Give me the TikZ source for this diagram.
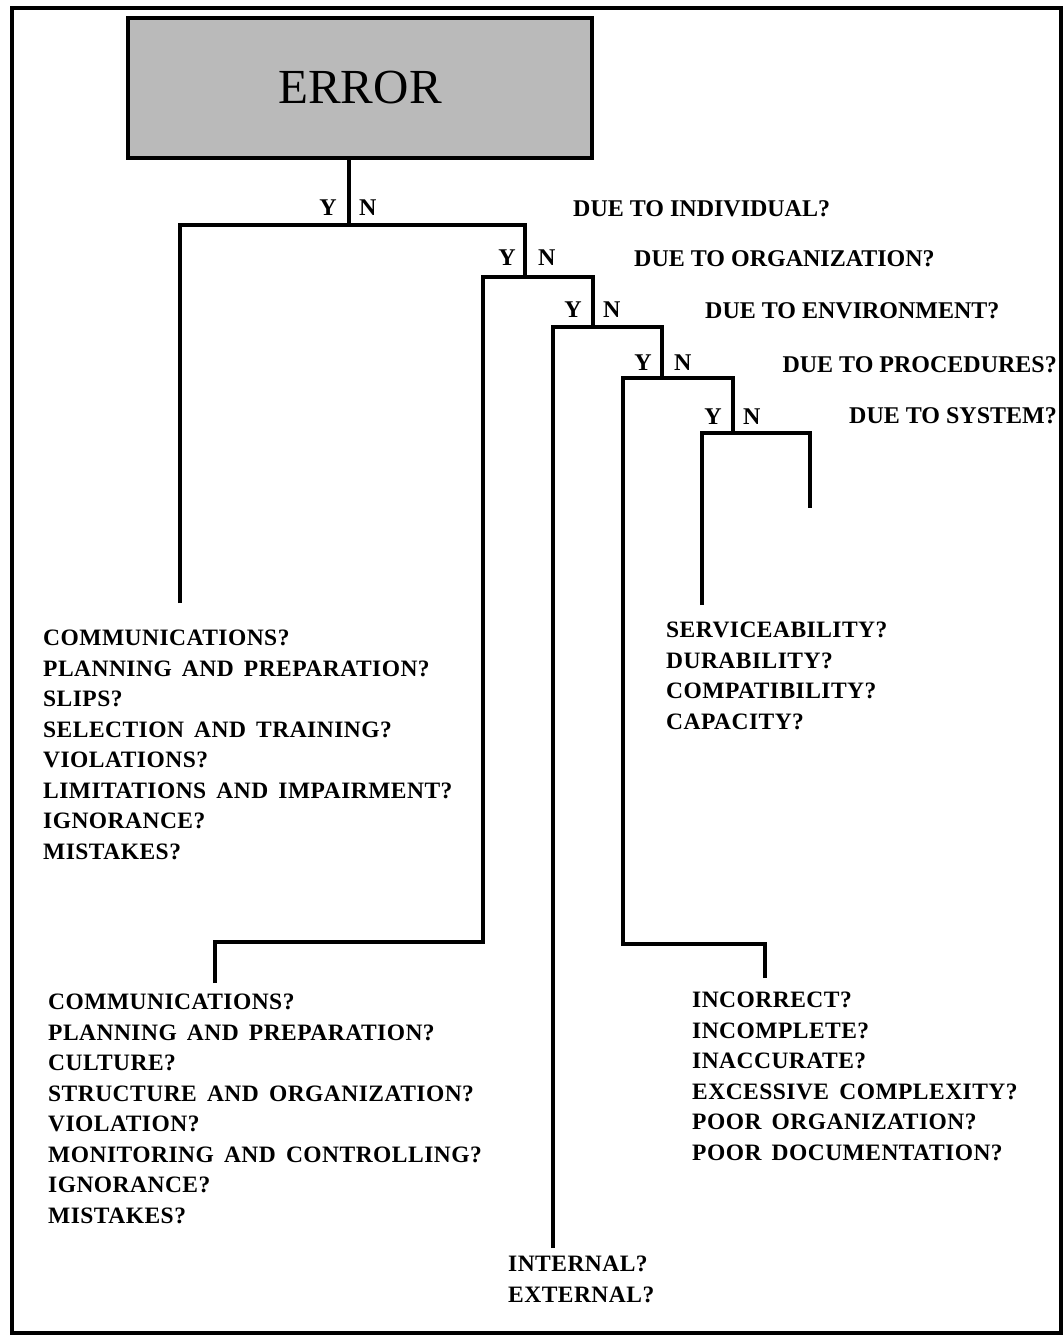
\documentclass[tikz,border=0pt]{standalone}
\usepackage{fontspec}
\setmainfont{Liberation Serif}
\newfontfamily\widebf[LetterSpace=2,WordSpace=1.6]{Liberation Serif}
\begin{document}
\begin{tikzpicture}[x=1pt,y=-1pt,
  tree/.style={line width=3.6pt, line join=miter, line cap=butt},
  yn/.style={font=\fontsize{24}{28}\selectfont\bfseries, inner sep=0pt},
  ques/.style={font=\fontsize{24}{28}\selectfont\bfseries, inner sep=0pt, anchor=base west},
  lst/.style={font=\widebf\fontsize{23.5}{30.5}\selectfont\bfseries, inner sep=0pt, anchor=north west, align=left},
  errbox/.style={draw, line width=3.5pt, fill=black!27, minimum width=464pt, minimum height=140pt, inner sep=0pt, font=\fontsize{49}{50}\selectfont}
]
\useasboundingbox (0,0) rectangle (1064,1341);
\draw[line width=4pt] (12,8) rectangle (1061,1333);

\node[errbox] (err) at (360,88) {ERROR\hspace{16pt}};

% junction coordinates
\coordinate (j1) at (349,225);
\coordinate (h2) at (525,225);
\coordinate (j2) at (525,277);
\coordinate (h3) at (593,277);
\coordinate (j3) at (593,327);
\coordinate (h4) at (662,327);
\coordinate (j4) at (662,378);
\coordinate (h5) at (733,378);
\coordinate (j5) at (733,433);
\coordinate (k2) at (483,942);
\coordinate (k4) at (623,944);
% free ends
\coordinate (e1) at (180,603);
\coordinate (e2) at (215,983);
\coordinate (e3) at (553,1248);
\coordinate (e4) at (765,978);
\coordinate (e5) at (702,605);
\coordinate (e6) at (810,508);

% tree
\draw[tree] (err.south -| j1) -- (j1);
\draw[tree] (e1) |- (h2) -- (j2);
\draw[tree] (e2) |- (k2) |- (h3) -- (j3);
\draw[tree] (e3) |- (h4) -- (j4);
\draw[tree] (e4) |- (k4) |- (h5) -- (j5);
\draw[tree] (e5) |- (j5) -| (e6);

% Y / N labels
\node[yn, anchor=east] (y1) at (337,208) {Y};
\node[yn, anchor=west] (n1) at (359,208) {N};
\node[yn, anchor=east] (y2) at (516,258) {Y};
\node[yn, anchor=west] (n2) at (538,258) {N};
\node[yn, anchor=east] (y3) at (582,310) {Y};
\node[yn, anchor=west] (n3) at (603,310) {N};
\node[yn, anchor=east] (y4) at (652,363) {Y};
\node[yn, anchor=west] (n4) at (674,363) {N};
\node[yn, anchor=east] (y5) at (722,417) {Y};
\node[yn, anchor=west] (n5) at (743,417) {N};

% questions
\node[ques] (q1) at (573,216) {DUE TO INDIVIDUAL?};
\node[ques] (q2) at (634,266) {DUE TO ORGANIZATION?};
\node[ques] (q3) at (705,318) {DUE TO ENVIRONMENT?};
\node[ques, anchor=base east] (q4) at (1057,372) {DUE TO PROCEDURES?};
\node[ques, anchor=base east] (q5) at (1057,423) {DUE TO SYSTEM?};

% lists
\node[lst] (l1) at (43,630) {COMMUNICATIONS?\\PLANNING AND PREPARATION?\\SLIPS?\\SELECTION AND TRAINING?\\VIOLATIONS?\\LIMITATIONS AND IMPAIRMENT?\\IGNORANCE?\\MISTAKES?};
\node[lst] (l2) at (48,994) {COMMUNICATIONS?\\PLANNING AND PREPARATION?\\CULTURE?\\STRUCTURE AND ORGANIZATION?\\VIOLATION?\\MONITORING AND CONTROLLING?\\IGNORANCE?\\MISTAKES?};
\node[lst] (l3) at (508,1256) {INTERNAL?\\EXTERNAL?};
\node[lst] (l4) at (692,992) {INCORRECT?\\INCOMPLETE?\\INACCURATE?\\EXCESSIVE COMPLEXITY?\\POOR ORGANIZATION?\\POOR DOCUMENTATION?};
\node[lst] (l5) at (666,622) {SERVICEABILITY?\\DURABILITY?\\COMPATIBILITY?\\CAPACITY?};
\end{tikzpicture}
\end{document}
